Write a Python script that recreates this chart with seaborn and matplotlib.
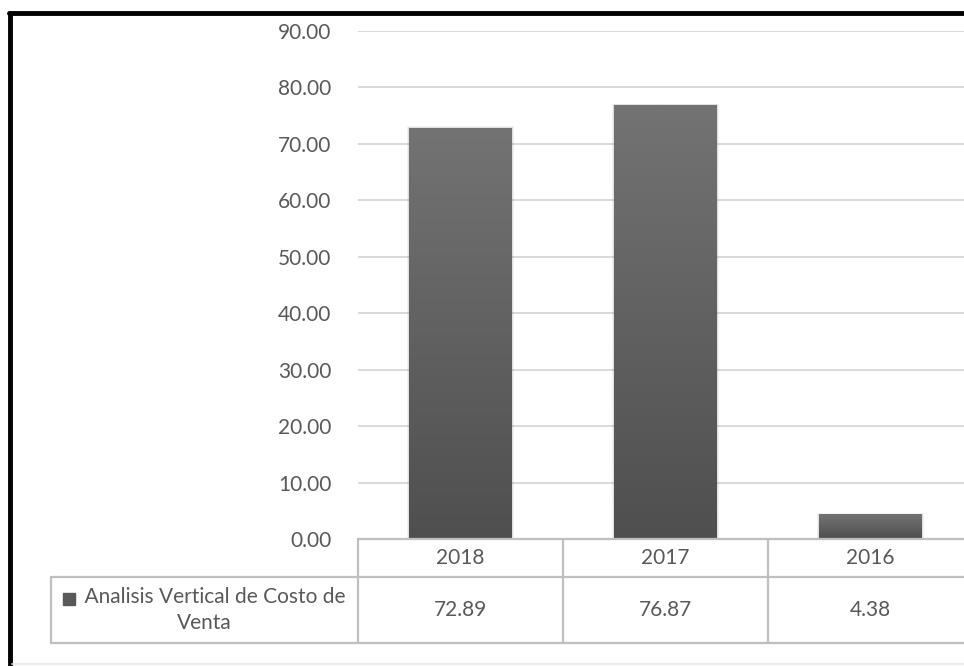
import numpy as np
import matplotlib
matplotlib.use("Agg")
import matplotlib.pyplot as plt
import seaborn as sns
from matplotlib.colors import LinearSegmentedColormap
from matplotlib.lines import Line2D
from matplotlib.transforms import blended_transform_factory

# Data
years = ["2018", "2017", "2016"]
values = [72.89, 76.87, 4.38]
series_name = "Analisis Vertical de Costo de\nVenta"
y_ticks = [0, 10, 20, 30, 40, 50, 60, 70, 80, 90]

sns.set_theme(style="white")
plt.rcParams["font.family"] = ["Lato", "DejaVu Sans"]

TEXT = "#595959"
GRID = "#d9d9d9"
TABLE = "#bfbfbf"
FS = 15

W, H = 964, 666
fig = plt.figure(figsize=(W / 100, H / 100), dpi=100)
fig.patch.set_facecolor("white")

# Plot area: the third category column runs slightly past the right edge
ax = fig.add_axes([358 / W, 127 / H, 615 / W, 508 / H])

sns.barplot(x=years, y=values, color="#606060", width=0.5, ax=ax,
            saturation=1, zorder=3)

ax.set_xlim(-0.5, 2.5)
ax.set_ylim(0, 90)
ax.set_yticks(y_ticks)
ax.set_yticklabels([f"{v:.2f}" for v in y_ticks], color=TEXT, fontsize=FS)
ax.tick_params(axis="y", length=0, pad=19)
ax.set_xticks([])
ax.set_xlabel("")
ax.set_ylabel("")
for s in ax.spines.values():
    s.set_visible(False)
ax.yaxis.grid(True, color=GRID, lw=1.4, zorder=0)
ax.set_axisbelow(True)

# Vertical gradient fill on each bar, lighter at the top
cmap = LinearSegmentedColormap.from_list("bar", ["#4f4f4f", "#737373"])
grad = np.linspace(0, 1, 256).reshape(-1, 1)
for p in ax.patches:
    x0, w, h = p.get_x(), p.get_width(), p.get_height()
    # soft shadow
    for k, a in ((0.010, 0.05), (0.005, 0.07)):
        ax.add_patch(plt.Rectangle((x0 - k, 0), w + 2 * k, h + k * 25,
                                   facecolor="black", alpha=a, lw=0, zorder=2))
    im = ax.imshow(grad, extent=[x0, x0 + w, 0, h], origin="lower",
                   aspect="auto", cmap=cmap, zorder=4)
    im.set_clip_path(p)
    p.set_facecolor("none")
    p.set_edgecolor("none")
ax.set_xlim(-0.5, 2.5)
ax.set_ylim(0, 90)

# Data table below the plot
tr = blended_transform_factory(ax.transData, fig.transFigure)
y_top, y_mid, y_bot = 127 / H, 89 / H, 23 / H
lk = dict(color=TABLE, lw=1.6, transform=tr, clip_on=False, zorder=5)
ax.plot([-0.5, 2.6], [y_top, y_top], **lk)
ax.plot([-2.0, 2.6], [y_mid, y_mid], **lk)
ax.plot([-2.0, 2.6], [y_bot, y_bot], **lk)
ax.plot([-2.0, -2.0], [y_mid, y_bot], **lk)
for xb in (-0.5, 0.5, 1.5, 2.5):
    ax.plot([xb, xb], [y_top, y_bot], **lk)

for i, (yr, v) in enumerate(zip(years, values)):
    ax.text(i, (y_top + y_mid) / 2, yr, transform=tr, ha="center",
            va="center", color=TEXT, fontsize=FS, clip_on=False)
    ax.text(i, (y_mid + y_bot) / 2, f"{v:.2f}", transform=tr, ha="center",
            va="center", color=TEXT, fontsize=FS, clip_on=False)

# Series label with a small legend key in front of its first line
lab = ax.text(-1.25, (y_mid + y_bot) / 2, "    " + series_name, transform=tr,
              ha="center", va="center", multialignment="center", color=TEXT,
              fontsize=FS, linespacing=1.4, clip_on=False)
fig.canvas.draw()
bb = lab.get_window_extent()
line_h = bb.height / 2
key_x = (bb.x0 + 6) / W
key_y = (bb.y1 - line_h / 2 - 1) / H
fig.add_artist(Line2D([key_x], [key_y], marker="s", markersize=8,
                      color="#595959", linestyle="none"))

# Frame around the chart
fig.add_artist(Line2D([10 / W, 10 / W], [0, 653 / H], color="black", lw=3.5))
fig.add_artist(Line2D([8.5 / W, 1.0], [653 / H, 653 / H], color="black", lw=3.5))
fig.add_artist(Line2D([12 / W, 1.0], [2 / H, 2 / H], color="#e6e6e6", lw=1.2))

fig.savefig("out.png", dpi=100)
